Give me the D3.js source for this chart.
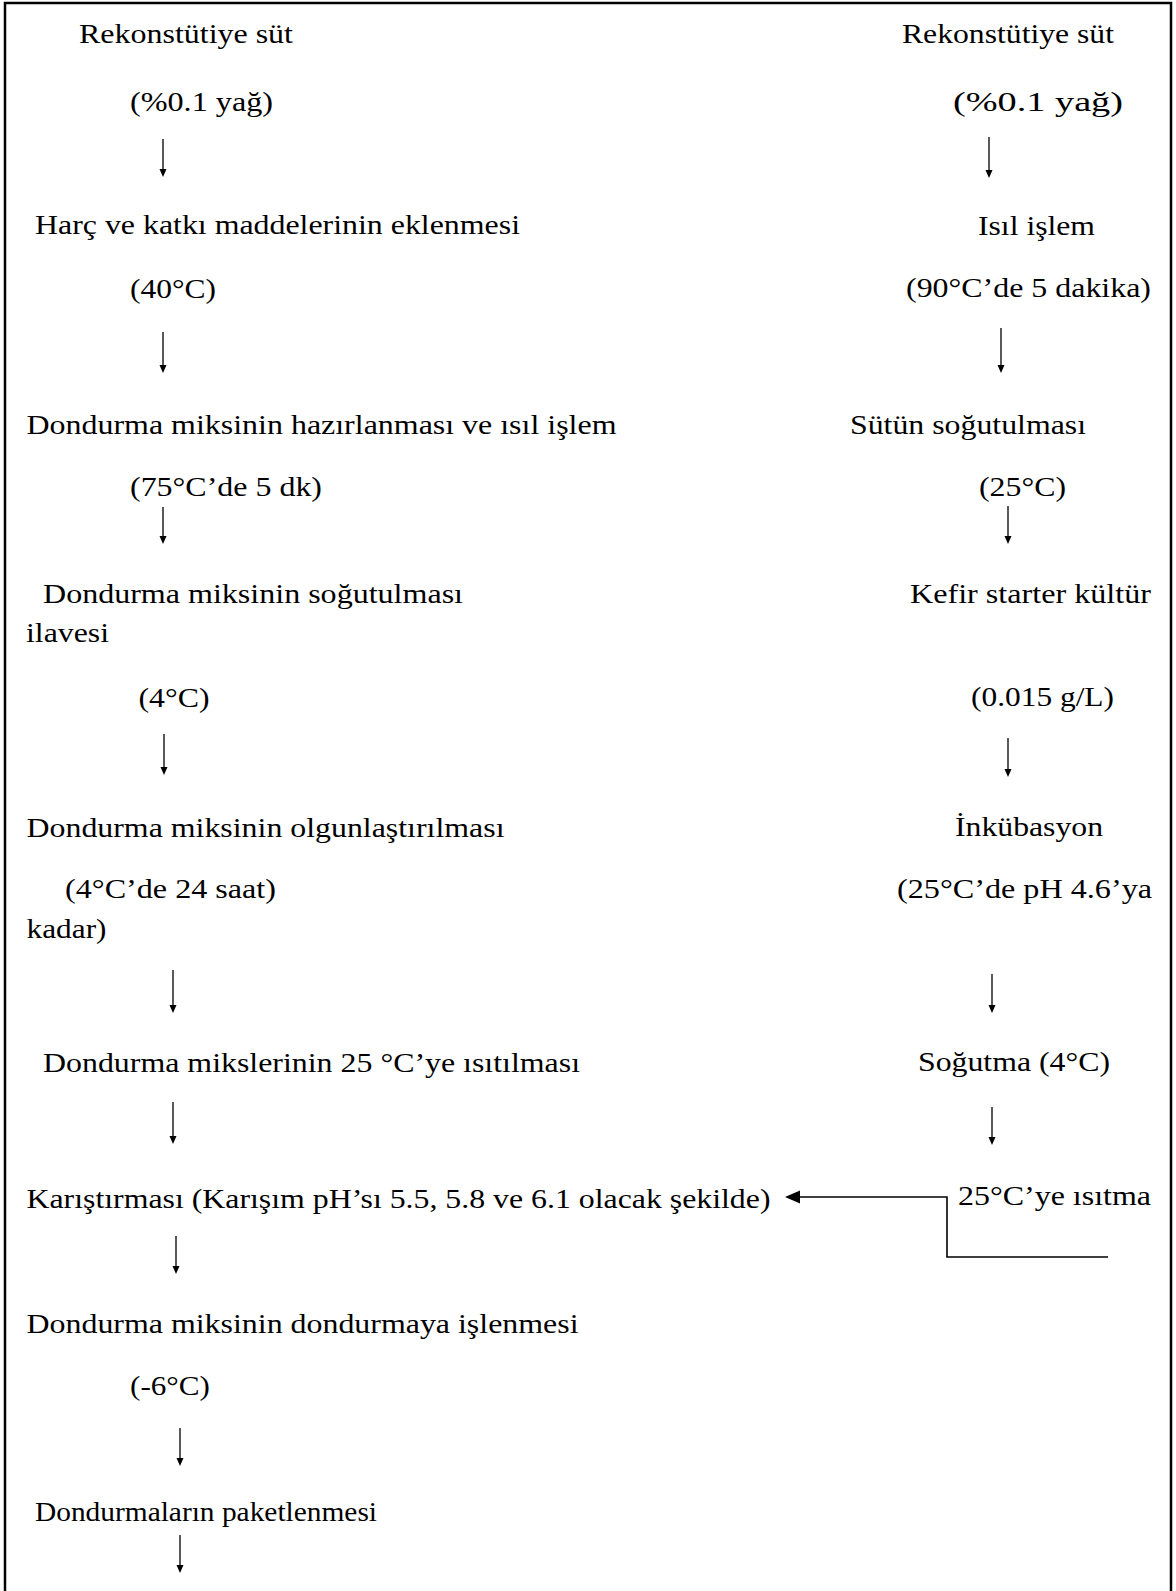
<!DOCTYPE html>
<html><head><meta charset="utf-8">
<script src="https://cdn.jsdelivr.net/npm/d3@7"></script>
<style>html,body{margin:0;padding:0;background:#fff;}svg{display:block;}</style>
</head><body>
<script>
// ---- data: step labels ----
const leftSteps = [
  "Rekonstütiye süt",
  "(%0.1 yağ)",
  "Harç ve katkı maddelerinin eklenmesi",
  "(40°C)",
  "Dondurma miksinin hazırlanması ve ısıl işlem",
  "(75°C’de 5 dk)",
  "Dondurma miksinin soğutulması",
  "ilavesi",
  "(4°C)",
  "Dondurma miksinin olgunlaştırılması",
  "(4°C’de 24 saat)",
  "kadar)",
  "Dondurma mikslerinin 25 °C’ye ısıtılması",
  "Karıştırması (Karışım pH’sı 5.5, 5.8 ve 6.1 olacak şekilde)",
  "Dondurma miksinin dondurmaya işlenmesi",
  "(-6°C)",
  "Dondurmaların paketlenmesi"
];
const rightSteps = [
  "Rekonstütiye süt",
  "(%0.1 yağ)",
  "Isıl işlem",
  "(90°C’de 5 dakika)",
  "Sütün soğutulması",
  "(25°C)",
  "Kefir starter kültür",
  "(0.015 g/L)",
  "İnkübasyon",
  "(25°C’de pH 4.6’ya",
  "Soğutma (4°C)",
  "25°C’ye ısıtma"
];

// ---- layout (x start, baseline, text width) ----
const leftLayout = [
  [79,43,214],[130,111,143],[35,234,485],[130,298,86],[26.5,434,590],[130,496,192],
  [43,603,420],[26,642,83],[138.5,707,71],[26.5,837,478],[65,898,211],[26.5,938,80],
  [43,1072,537],[26.5,1208,744],[26.5,1333,552],[130,1395,80],[35,1521,342]
];
const rightLayout = [
  [902,43,212],[953,111,170],[978,235,117],[906,297,245],[850,434,236],[979,496,87],
  [910,603,241],[971,706,143],[955,836,148],[897,898,255],[918,1071,192],[958,1205,193]
];
// vertical arrows: x, y start, y tip
const leftArrows = [[163,139,177],[163,332,373],[163,507,544],[164,734,775],[173,970,1013],
  [173,1102,1144],[176,1236,1274],[180,1428,1466],[180,1535,1573]];
const rightArrows = [[989,137,178],[1001,328,373],[1008,506,544],[1008,738,777],[992,974,1013],[992,1107,1145]];
const connector = [[1108,1257],[947,1257],[947,1197],[785,1197]];

const W = 1176, H = 1591;
const FONT = '"Liberation Serif", "Times New Roman", Tinos, serif';
const svg = d3.select("body").append("svg").attr("width", W).attr("height", H);
svg.append("rect").attr("width", W).attr("height", H).attr("fill", "#fff");

// frame (open at bottom)
svg.append("path")
  .attr("d", d3.line()([[5, H], [5, 3], [1171, 3], [1171, H]]))
  .attr("fill", "none").attr("stroke", "#000").attr("stroke-width", 2.5);

function drawTexts(labels, layout) {
  svg.append("g").selectAll("text").data(labels).join("text")
    .attr("x", (d, i) => layout[i][0])
    .attr("y", (d, i) => layout[i][1])
    .attr("textLength", (d, i) => layout[i][2])
    .attr("lengthAdjust", "spacingAndGlyphs")
    .style("font-family", FONT)
    .style("font-size", "28px")
    .attr("fill", "#000")
    .text(d => d);
}
drawTexts(leftSteps, leftLayout);
drawTexts(rightSteps, rightLayout);

function drawArrows(arr) {
  const g = svg.append("g");
  g.selectAll("line").data(arr).join("line")
    .attr("x1", d => d[0]).attr("x2", d => d[0])
    .attr("y1", d => d[1]).attr("y2", d => d[2] - 6)
    .attr("stroke", "#000").attr("stroke-width", 1.3);
  g.selectAll("path").data(arr).join("path")
    .attr("d", d => `M${d[0]},${d[2]} L${d[0]-3.5},${d[2]-8} L${d[0]+3.5},${d[2]-8} Z`)
    .attr("fill", "#000");
}
drawArrows(leftArrows);
drawArrows(rightArrows);

// connector from right column into mixing step
const tip = connector[connector.length - 1];
const pts = connector.slice(0, -1).concat([[tip[0] + 13, tip[1]]]);
svg.append("path").attr("d", d3.line()(pts))
  .attr("fill", "none").attr("stroke", "#000").attr("stroke-width", 1.6);
svg.append("path")
  .attr("d", `M${tip[0]},${tip[1]} L${tip[0]+15},${tip[1]-6.5} L${tip[0]+15},${tip[1]+6.5} Z`)
  .attr("fill", "#000");
</script>
</body></html>
